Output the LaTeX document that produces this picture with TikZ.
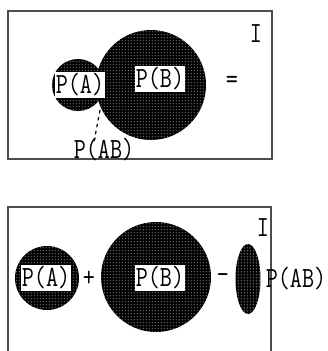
\documentclass[tikz,border=0pt]{standalone}
\usepackage{graphicx}
\usetikzlibrary{patterns}

\newcommand{\tallt}[1]{\scalebox{1}[1.25]{\ttfamily #1}}

% white dot grid laid over the black discs
\pgfdeclarepatternformonly{pixdots}{\pgfpointorigin}{\pgfpoint{2.6pt}{2.6pt}}{\pgfpoint{2.6pt}{2.6pt}}{%
  \pgfpathcircle{\pgfpoint{1.3pt}{1.3pt}}{0.55pt}\pgfusepath{fill}}

\begin{document}
\begin{tikzpicture}[
    x=0.03cm, y=-0.03cm,
    font=\fontsize{20}{20}\selectfont,
    frame/.style={draw=black!70, line width=1.5pt},
    blob/.style={fill=black, postaction={pattern=pixdots, pattern color=white}},
    tag/.style={fill=white, inner sep=1pt},
    sign/.style={inner sep=0pt},
  ]
  \useasboundingbox (0,0) rectangle (328,351);

  % upper panel: the union
  \draw[frame] (8,11) rectangle (272,159);
  \fill[blob] (151,85) circle (55);
  \fill[blob] (78,85) circle (26);

  \node[tag] (pa1) at (80,85) {\tallt{P(A)}};
  \node[tag] (pb1) at (160,79) {\tallt{P(B)}};
  \node[sign] (eq) at (232,82) {\tallt{=}};
  \node[sign] (I1) at (256,34) {\tallt{I}};
  \node[sign] (pab1) at (104,150) {\tallt{P(AB)}};

  \coordinate (lens) at (100,110);
  \coordinate (pabtop) at (94,142);
  \draw[dashed, line width=1pt] (lens) -- (pabtop);

  % lower panel: the sum of the parts
  \draw[frame] (8,351) -- (8,207) -- (271,207) -- (271,351);
  \fill[blob] (47,278) circle (32);
  \fill[blob] (156,277) circle (55);
  \fill[blob] (248,279) ellipse [x radius=12.5, y radius=35];

  \node[tag] (pa2) at (46,278) {\tallt{P(A)}};
  \node[sign] (plus) at (89,279) {\tallt{+}};
  \node[tag] (pb2) at (160,278) {\tallt{P(B)}};
  \node[sign] (minus) at (223,279) {\tallt{-}};
  \node[sign] (I2) at (263,228) {\tallt{I}};
  \node[sign] (pab2) at (296,279) {\tallt{P(AB)}};
\end{tikzpicture}
\end{document}
